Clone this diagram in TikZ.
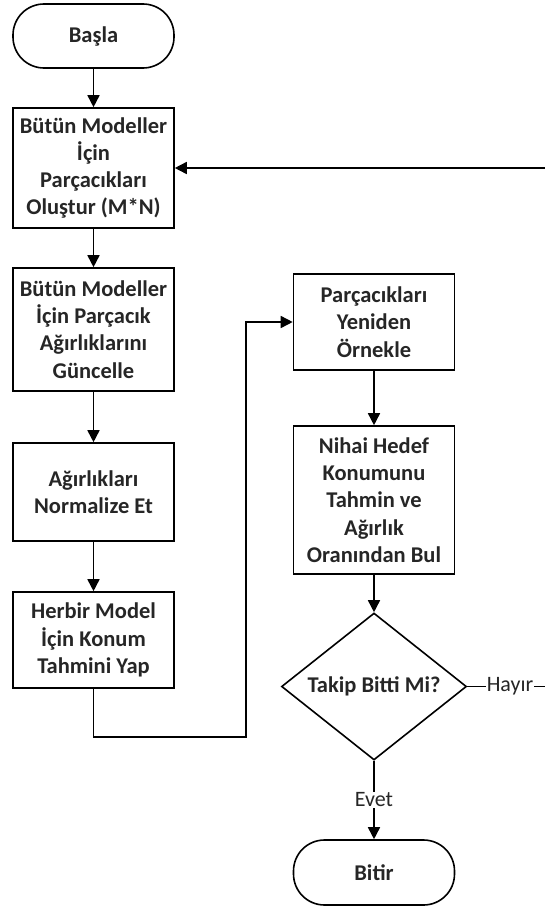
\documentclass[tikz,border=0pt]{standalone}
\usepackage{fontspec}
\setmainfont{Carlito}
\usetikzlibrary{arrows.meta,shapes.geometric}

\tikzset{
  base/.style={draw=black, line width=1.6pt, text=black!85, align=center,
    font=\bfseries\fontsize{22.5}{27.3}\selectfont, inner sep=0pt},
  procbox/.style={base, rectangle, minimum width=161pt},
  terminal/.style={base, rectangle, rounded corners=31pt, minimum width=161pt},
  decision/.style={base, diamond},
  flow/.style={line width=1.6pt, draw=black, -{Triangle[length=12pt,width=12pt]}},
  plainline/.style={line width=1.6pt, draw=black},
  edgelabel/.style={fill=white, text=black!85, inner sep=1pt,
    font=\fontsize{22}{27}\selectfont},
}

\begin{document}
\begin{tikzpicture}[x=1pt,y=-1pt]
  \fill[white] (0,0) rectangle (545,910);
  \useasboundingbox (0,0) rectangle (545,910);

  % left column
  \node[terminal, minimum height=64pt] (start) at (93.5,36) {Başla};
  \node[procbox, minimum height=120pt] (b1) at (93.5,168)
    {Bütün Modeller\\İçin\\Parçacıkları\\Oluştur (M*N)};
  \node[procbox, minimum height=123pt] (b2) at (93.5,329.5)
    {Bütün Modeller\\İçin Parçacık\\Ağırlıklarını\\Güncelle};
  \node[procbox, minimum height=98pt] (b3) at (93.5,492)
    {Ağırlıkları\\Normalize Et};
  \node[procbox, minimum height=96pt] (b4) at (93.5,640)
    {Herbir Model\\İçin Konum\\Tahmini Yap};

  % right column
  \node[procbox, minimum height=96pt] (r1) at (374,322)
    {Parçacıkları\\Yeniden\\Örnekle};
  \node[procbox, minimum height=148pt] (r2) at (374,500)
    {Nihai Hedef\\Konumunu\\Tahmin ve\\Ağırlık\\Oranından Bul};
  \node[decision, minimum width=185pt, minimum height=147pt, aspect=1.26] (dec) at (374,686.5)
    {Takip Bitti Mi?};
  \node[terminal, minimum height=65pt] (stop) at (374,872.5) {Bitir};

  % helper points
  \coordinate (turn) at (246,322);
  \coordinate (noend) at (545,686.5);
  \coordinate (back) at (545,168);

  % connectors
  \draw[flow] (start) -- (b1);
  \draw[flow] (b1) -- (b2);
  \draw[flow] (b2) -- (b3);
  \draw[flow] (b3) -- (b4);
  \draw[flow] (b4.south) -- ++(0,48) -| (turn) -- (r1.west);
  \draw[flow] (r1) -- (r2);
  \draw[flow] (r2) -- (dec);
  \draw[flow] (dec.south) -- node[edgelabel]{Evet} (stop.north);
  \draw[plainline] (dec.east) -- node[edgelabel, pos=0.55]{Hayır} (noend);
  \draw[flow] (back) -- (b1.east);
\end{tikzpicture}
\end{document}
